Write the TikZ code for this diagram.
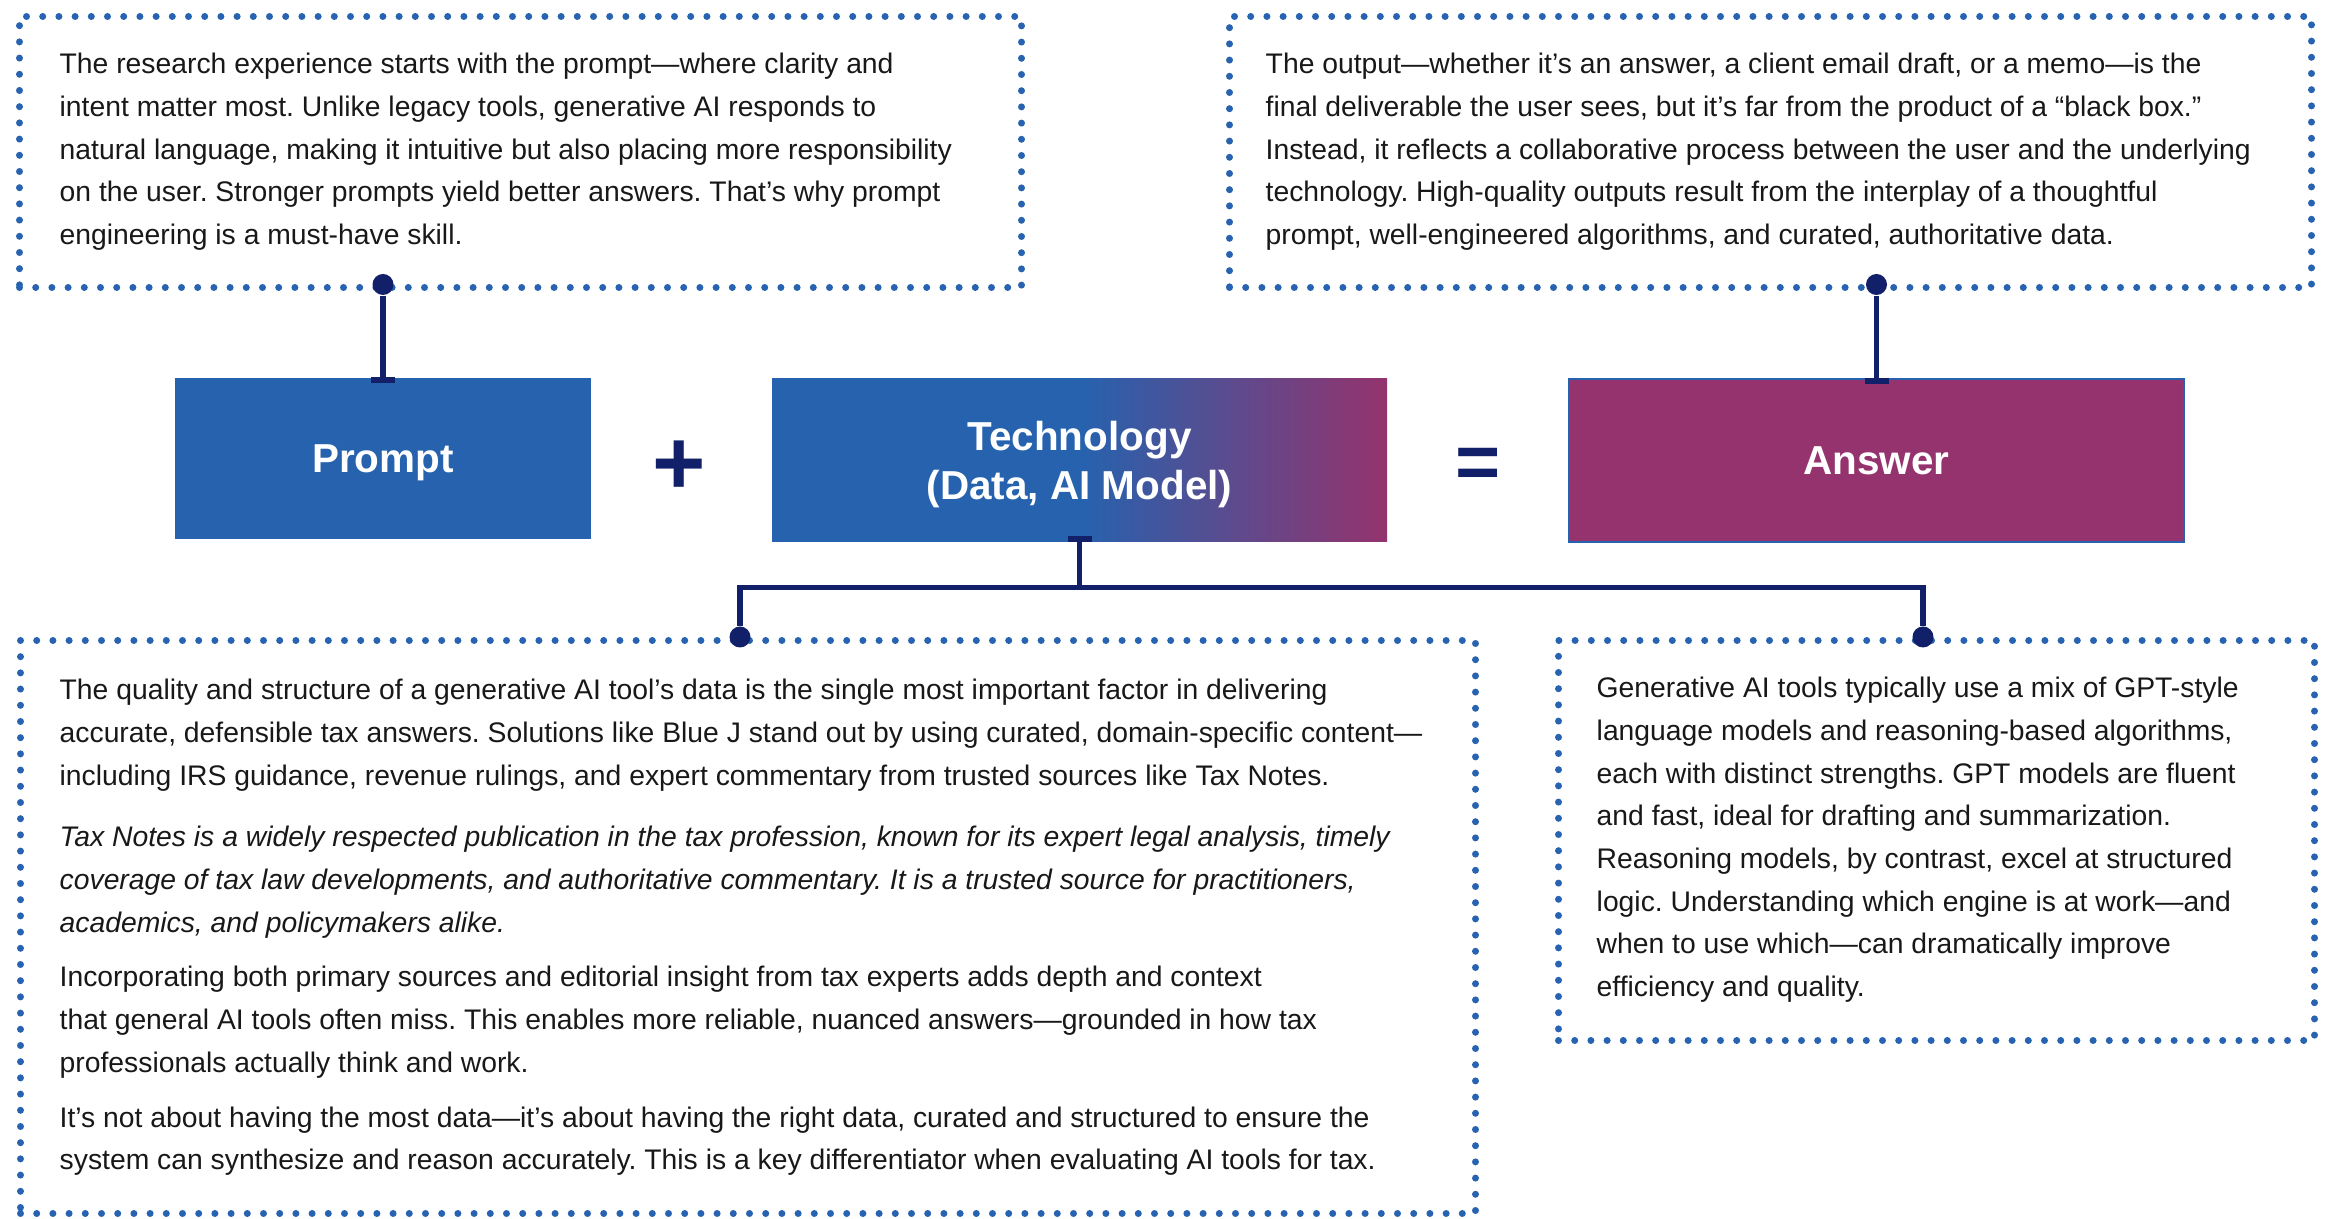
\documentclass[tikz,border=0pt]{standalone}
\usepackage{fontspec}
\setmainfont{Liberation Sans}
\usepackage{xcolor}
\usepackage{tikz}
\usetikzlibrary{arrows.meta,positioning,calc}
\definecolor{promptblue}{RGB}{38,98,174}
\definecolor{answerplum}{RGB}{148,51,109}
\definecolor{linknavy}{RGB}{17,32,105}
\definecolor{dotblue}{RGB}{40,99,177}
\definecolor{bodyink}{RGB}{24,24,24}
\newdimen\pxu \pxu=0.01cm
\tikzset{
  stepbox/.style={minimum width=615\pxu, minimum height=163\pxu, inner sep=0pt, text depth=0pt, text=white, align=center, font=\fontsize{11.5}{14}\selectfont\bfseries},
  notebox/.style={draw=dotblue, line width=7\pxu, dash pattern=on 0pt off 16.2\pxu, line cap=round, inner sep=0pt, anchor=north west},
  notetext/.style={anchor=north west, align=left, inner sep=0pt, text=bodyink, font=\fontsize{8.05}{12.15}\selectfont\frenchspacing},
  link/.style={draw=linknavy, line width=5.5\pxu},
  joint/.style={circle, fill=linknavy, minimum size=21\pxu, inner sep=0pt},
  sign/.style={text=linknavy, inner sep=0pt, font=\fontsize{26}{26}\selectfont\bfseries},
  tbar/.tip={Rectangle[length=0.06cm, width=0.24cm]}
}
\begin{document}
\begin{tikzpicture}[x=0.01cm, y=-0.01cm]
  \useasboundingbox (0,0) rectangle (2326,1219);

  % the three steps
  \node[stepbox, fill=promptblue, minimum width=416\pxu, minimum height=161\pxu] (prompt) at (383,458.5) {Prompt};
  \node[stepbox, left color=promptblue, right color=answerplum, middle color=promptblue] (tech) at (1079.5,460) {Technology\\(Data, AI Model)};
  \node[stepbox, fill=answerplum, draw=promptblue, line width=1.5\pxu] (answer) at (1876.5,460.5) {Answer};
  \node[sign] (plus) at (679.5,468) {+};
  \node[sign, font=\fontsize{22}{22}\selectfont\bfseries] (equals) at (1478.5,468.5) {=};

  % dotted notes
  \node[notebox, minimum width=1002\pxu, minimum height=271\pxu] (promptnote) at (16,13) {};
  \node[notebox, minimum width=1082\pxu, minimum height=271\pxu] (answernote) at (1226,13) {};
  \node[notebox, minimum width=1455\pxu, minimum height=573\pxu] (datanote) at (17,637) {};
  \node[notebox, minimum width=756\pxu, minimum height=400\pxu] (modelnote) at (1555,637) {};

  \node[notetext] (prompttext) at (59,52.4) {The research experience starts with the prompt—where clarity and\\
    intent matter most. Unlike legacy tools, generative AI responds to\\
    natural language, making it intuitive but also placing more responsibility\\
    on the user. Stronger prompts yield better answers. That’s why prompt\\
    engineering is a must-have skill.};
  \node[notetext] (answertext) at (1265,52.4) {The output—whether it’s an answer, a client email draft, or a memo—is the\\
    final deliverable the user sees, but it’s far from the product of a “black box.”\\
    Instead, it reflects a collaborative process between the user and the underlying\\
    technology. High-quality outputs result from the interplay of a thoughtful\\
    prompt, well-engineered algorithms, and curated, authoritative data.};
  \node[notetext] (datatext) at (59,678.4) {The quality and structure of a generative AI tool’s data is the single most important factor in delivering\\
    accurate, defensible tax answers. Solutions like Blue J stand out by using curated, domain-specific content—\\
    including IRS guidance, revenue rulings, and expert commentary from trusted sources like Tax Notes.\\[19\pxu]
    \textit{Tax Notes is a widely respected publication in the tax profession, known for its expert legal analysis, timely}\\
    \textit{coverage of tax law developments, and authoritative commentary. It is a trusted source for practitioners,}\\
    \textit{academics, and policymakers alike.}\\[12\pxu]
    Incorporating both primary sources and editorial insight from tax experts adds depth and context\\
    that general AI tools often miss. This enables more reliable, nuanced answers—grounded in how tax\\
    professionals actually think and work.\\[12\pxu]
    It’s not about having the most data—it’s about having the right data, curated and structured to ensure the\\
    system can synthesize and reason accurately. This is a key differentiator when evaluating AI tools for tax.};
  \node[notetext] (modeltext) at (1596,676.4) {Generative AI tools typically use a mix of GPT-style\\
    language models and reasoning-based algorithms,\\
    each with distinct strengths. GPT models are fluent\\
    and fast, ideal for drafting and summarization.\\
    Reasoning models, by contrast, excel at structured\\
    logic. Understanding which engine is at work—and\\
    when to use which—can dramatically improve\\
    efficiency and quality.};

  % connectors
  \node[joint] (promptjoint) at (383,284.5) {};
  \node[joint] (answerjoint) at (1876.5,284.5) {};
  \node[joint] (datajoint) at (740,637) {};
  \node[joint] (modeljoint) at (1923,637) {};
  \coordinate (fork) at ($(tech.south)+(0,45.5)$);

  \draw[link, -{tbar}, shorten >=-6\pxu] (promptjoint) -- (prompt.north);
  \draw[link, -{tbar}, shorten >=-6\pxu] (answerjoint) -- (answer.north);
  \draw[link, {tbar}-, shorten <=-6\pxu] (tech.south) -- (fork);
  \draw[link] (datajoint) |- (fork) -| (modeljoint);
\end{tikzpicture}
\end{document}
